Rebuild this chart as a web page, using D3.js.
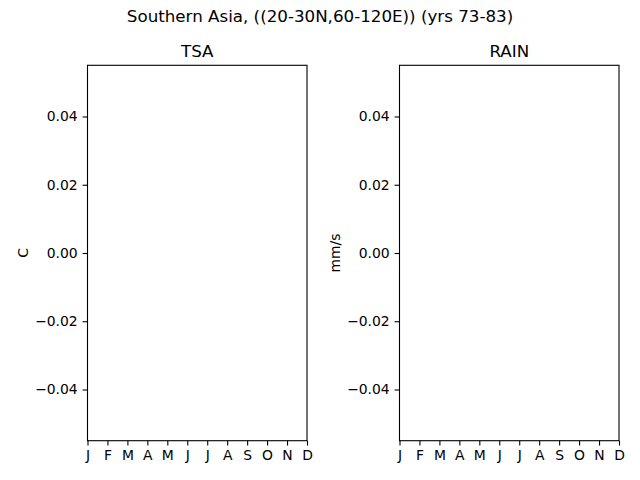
<!DOCTYPE html>
<html>
<head>
<meta charset="utf-8">
<script src="https://cdn.jsdelivr.net/npm/d3@7"></script>
<style>
  body { margin: 0; background: #fff; }
  text { font-family: "DejaVu Sans", sans-serif; fill: #000; }
</style>
</head>
<body>
<div id="chart"></div>
<script>
// chart data
var months = ["J", "F", "M", "A", "M", "J", "J", "A", "S", "O", "N", "D"];
var yTicks = [-0.04, -0.02, 0.00, 0.02, 0.04];
var panelTitles = ["TSA", "RAIN"];
var panelUnits = ["C", "mm/s"];
var tsaValues = [];   // no data plotted
var rainValues = [];
var suptitle = "Southern Asia, ((20-30N,60-120E)) (yrs 73-83)";

var svgWidth = 640;
var svgHeight = 480;

var svg = d3.select("#chart")
  .append("svg")
  .attr("width", svgWidth)
  .attr("height", svgHeight);

svg.append("text")
  .attr("x", 320)
  .attr("y", 22)
  .attr("text-anchor", "middle")
  .attr("font-size", "16.7px")
  .text(suptitle);

var panelLeft = [87.5, 399.5];
var plotTop = 65.3, plotBottom = 440.7, panelW = 219.5;
var panelH = plotBottom - plotTop;

var fmt = function(d) {
  var s = d3.format(".2f")(Math.abs(d));
  return d < 0 ? "\u2212" + s : s;
};

[tsaValues, rainValues].forEach(function(vals, i) {
  var x = d3.scaleLinear().domain([0, 11]).range([0, panelW]);
  var y = d3.scaleLinear().domain([-0.055, 0.055]).range([panelH, 0]);

  var g = svg.append("g")
    .attr("transform", `translate(${panelLeft[i]}, ${plotTop})`);

  var xAxis = g.append("g")
    .attr("transform", `translate(0, ${panelH})`)
    .call(d3.axisBottom(x).tickValues(d3.range(12))
      .tickFormat(function(d) { return months[d]; })
      .tickSize(4.9).tickPadding(4.9));

  var yAxis = g.append("g")
    .call(d3.axisLeft(y).tickValues(yTicks).tickFormat(fmt)
      .tickSize(4.9).tickPadding(4.9));

  [xAxis, yAxis].forEach(function(a) {
    a.select(".domain").remove();
    a.selectAll("text").attr("font-size", "13.9px")
      .style("font-family", "'DejaVu Sans', sans-serif");
    a.selectAll("line").attr("stroke", "#000").attr("stroke-width", 1.1);
  });

  g.append("rect")
    .attr("width", panelW)
    .attr("height", panelH)
    .attr("fill", "none")
    .attr("stroke", "#000")
    .attr("stroke-width", 1.1);

  g.append("text")
    .attr("x", panelW / 2)
    .attr("y", -8)
    .attr("text-anchor", "middle")
    .attr("font-size", "16.7px")
    .text(panelTitles[i]);

  g.append("text")
    .attr("transform", "rotate(-90)")
    .attr("x", -panelH / 2)
    .attr("y", -60)
    .attr("text-anchor", "middle")
    .attr("font-size", "13.9px")
    .text(panelUnits[i]);
});
</script>
</body>
</html>
